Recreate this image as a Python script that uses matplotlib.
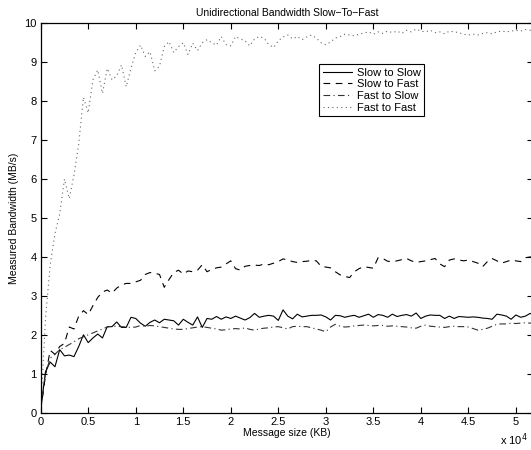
import numpy as np
import matplotlib
matplotlib.use("Agg")
import matplotlib.pyplot as plt

plt.rcParams['font.family'] = ['Liberation Sans', 'DejaVu Sans']

# message size (x 10^4 KB)
x = [round(0.05 * i, 2) for i in range(105)]

slow_to_slow = [0.07, 1.05, 1.30, 1.18, 1.62, 1.46, 1.48, 1.44, 1.70, 2.00,
                1.80, 1.92, 2.02, 1.92, 2.21, 2.21, 2.33, 2.19, 2.19, 2.45,
                2.42, 2.30, 2.22, 2.32, 2.38, 2.31, 2.40, 2.38, 2.36, 2.25,
                2.40, 2.32, 2.25, 2.46, 2.19, 2.42, 2.40, 2.47, 2.40, 2.46,
                2.42, 2.48, 2.43, 2.38, 2.44, 2.55, 2.45, 2.48, 2.50, 2.48,
                2.37, 2.64, 2.48, 2.41, 2.53, 2.46, 2.48, 2.50, 2.50, 2.51,
                2.46, 2.38, 2.50, 2.49, 2.45, 2.48, 2.50, 2.45, 2.49, 2.53,
                2.45, 2.52, 2.50, 2.45, 2.53, 2.47, 2.50, 2.52, 2.48, 2.56,
                2.42, 2.48, 2.51, 2.50, 2.50, 2.42, 2.48, 2.42, 2.47, 2.46,
                2.45, 2.46, 2.45, 2.43, 2.42, 2.40, 2.53, 2.51, 2.48, 2.40,
                2.51, 2.45, 2.48, 2.55, 2.50]

slow_to_fast = [0.07, 0.95, 1.60, 1.50, 1.70, 1.78, 2.20, 2.15, 2.48, 2.62,
                2.52, 2.75, 2.96, 3.10, 3.15, 3.07, 3.20, 3.28, 3.32, 3.32,
                3.36, 3.40, 3.55, 3.60, 3.58, 3.55, 3.22, 3.42, 3.60, 3.66,
                3.56, 3.64, 3.62, 3.66, 3.80, 3.62, 3.68, 3.72, 3.74, 3.82,
                3.90, 3.70, 3.66, 3.76, 3.78, 3.79, 3.78, 3.82, 3.80, 3.84,
                3.88, 3.95, 3.92, 3.88, 3.86, 3.88, 3.89, 3.91, 3.90, 3.76,
                3.74, 3.72, 3.62, 3.54, 3.50, 3.47, 3.62, 3.70, 3.75, 3.73,
                3.71, 3.98, 3.96, 3.89, 3.88, 3.90, 3.93, 3.96, 3.90, 3.86,
                3.88, 3.90, 3.93, 3.96, 3.82, 3.75, 3.92, 3.95, 3.92, 3.90,
                3.92, 3.88, 3.84, 3.75, 3.88, 3.96, 3.90, 3.84, 3.88, 3.92,
                3.90, 3.88, 3.98, 4.00, 3.98]

fast_to_slow = [0.07, 1.00, 1.40, 1.50, 1.62, 1.68, 1.75, 1.82, 1.90, 1.95,
                2.00, 2.05, 2.10, 2.15, 2.20, 2.22, 2.22, 2.21, 2.20, 2.19,
                2.20, 2.24, 2.22, 2.24, 2.23, 2.21, 2.19, 2.17, 2.15, 2.14,
                2.14, 2.16, 2.18, 2.20, 2.21, 2.19, 2.17, 2.15, 2.12, 2.13,
                2.15, 2.16, 2.15, 2.18, 2.14, 2.12, 2.15, 2.17, 2.18, 2.20,
                2.21, 2.18, 2.15, 2.21, 2.22, 2.21, 2.21, 2.18, 2.15, 2.12,
                2.08, 2.20, 2.27, 2.22, 2.20, 2.21, 2.23, 2.24, 2.25, 2.24,
                2.23, 2.24, 2.24, 2.22, 2.23, 2.22, 2.21, 2.20, 2.18, 2.17,
                2.22, 2.25, 2.22, 2.21, 2.20, 2.19, 2.21, 2.22, 2.21, 2.21,
                2.20, 2.16, 2.12, 2.14, 2.17, 2.22, 2.27, 2.28, 2.28, 2.30,
                2.29, 2.30, 2.31, 2.30, 2.32]

fast_to_fast = [0.07, 2.40, 3.80, 4.60, 5.10, 6.00, 5.50, 6.10, 6.90, 8.10,
                7.70, 8.55, 8.80, 8.20, 8.84, 8.55, 8.65, 8.93, 8.37, 8.85,
                9.25, 9.44, 9.15, 9.27, 8.78, 8.90, 9.40, 9.53, 9.25, 9.40,
                9.50, 9.20, 9.49, 9.30, 9.50, 9.58, 9.50, 9.44, 9.66, 9.45,
                9.42, 9.66, 9.60, 9.55, 9.42, 9.60, 9.66, 9.62, 9.45, 9.38,
                9.55, 9.65, 9.70, 9.60, 9.66, 9.58, 9.65, 9.70, 9.62, 9.50,
                9.45, 9.52, 9.62, 9.66, 9.72, 9.70, 9.68, 9.72, 9.75, 9.78,
                9.72, 9.78, 9.74, 9.80, 9.76, 9.80, 9.74, 9.82, 9.78, 9.85,
                9.80, 9.78, 9.82, 9.76, 9.78, 9.73, 9.80, 9.78, 9.76, 9.72,
                9.70, 9.72, 9.70, 9.74, 9.76, 9.73, 9.78, 9.80, 9.78, 9.80,
                9.82, 9.80, 9.84, 9.82, 9.85]

labels = ["Slow to Slow", "Slow to Fast", "Fast to Slow", "Fast to Fast"]
xticks = [0, 0.5, 1, 1.5, 2, 2.5, 3, 3.5, 4, 4.5, 5]
xticklabels = ["0", "0.5", "1", "1.5", "2", "2.5", "3", "3.5", "4", "4.5", "5"]
yticks = list(range(0, 11))

fig = plt.figure(figsize=(5.31, 4.5), dpi=100)
ax = fig.add_axes([40.7 / 531, 37.3 / 450, 492.3 / 531, 389.4 / 450])

ax.plot(x, slow_to_slow, color='black', lw=0.8, linestyle='-', label=labels[0])
ax.plot(x, slow_to_fast, color='black', lw=0.8, linestyle=(0, (6, 5)), label=labels[1])
ax.plot(x, fast_to_slow, color='#333333', lw=0.8, linestyle=(0, (6, 3, 1, 3)), label=labels[2])
ax.plot(x, fast_to_fast, color='#666666', lw=0.8, linestyle=(0, (1, 3)), label=labels[3])

ax.set_xlim(0, 5.18)
ax.set_ylim(0, 10)
ax.set_xticks(xticks)
ax.set_xticklabels(xticklabels)
ax.set_yticks(yticks)
ax.tick_params(direction='in', top=True, right=True, length=4, width=0.8,
               labelsize=8, pad=3)
for s in ax.spines.values():
    s.set_linewidth(0.9)

ax.set_title("Unidirectional Bandwidth Slow\u2212To\u2212Fast", fontsize=7.5, pad=5)
ax.set_xlabel("Message size (KB)", fontsize=7.5, labelpad=1)
ax.set_ylabel("Measured Bandwidth (MB/s)", fontsize=7.5, labelpad=4)

leg = ax.legend(loc='upper left', bbox_to_anchor=(0.566, 0.895), borderaxespad=0,
                fontsize=8, fancybox=False, framealpha=1, edgecolor='black',
                handlelength=2.6, handletextpad=0.5, borderpad=0.3,
                labelspacing=0.15)
leg.get_frame().set_linewidth(0.8)

fig.text(528 / 531, 1 - 440 / 450, "x 10$^4$", fontsize=8, ha='right', va='center')

fig.savefig("out.png", dpi=100)
